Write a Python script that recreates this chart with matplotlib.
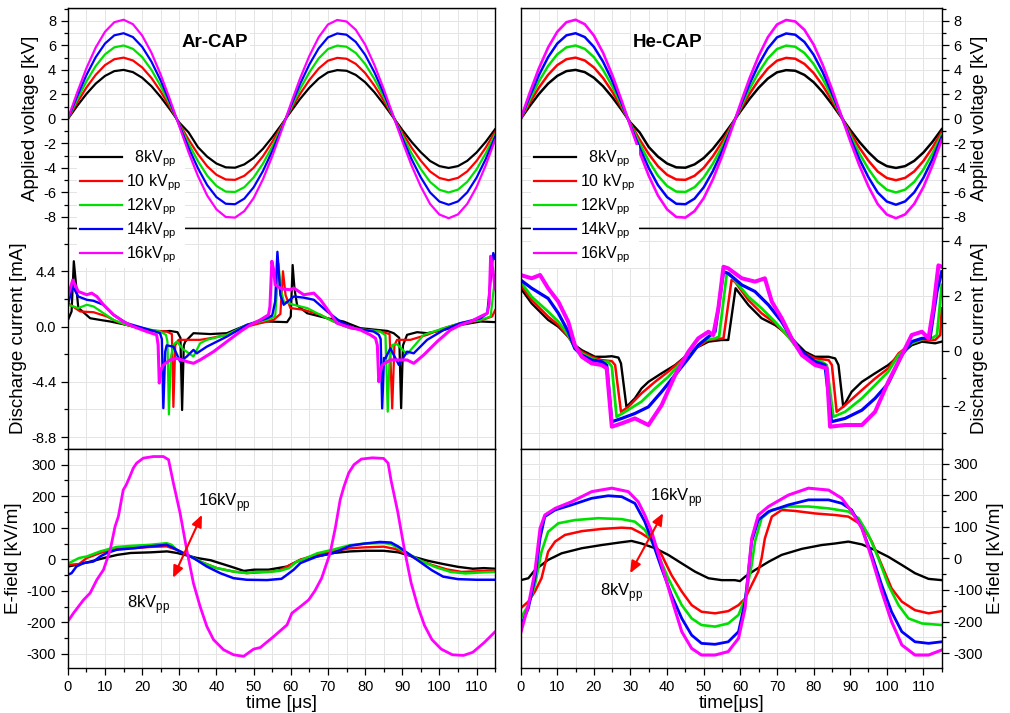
import matplotlib
matplotlib.use("Agg")
import matplotlib.pyplot as plt
from matplotlib.ticker import MultipleLocator, FormatStrFormatter

plt.rcParams['font.family'] = ['Liberation Sans', 'DejaVu Sans']
plt.rcParams['mathtext.fontset'] = 'custom'
plt.rcParams['mathtext.rm'] = 'Liberation Sans'
plt.rcParams['axes.unicode_minus'] = False

COLORS = ['#000000', '#ff0000', '#00e000', '#0000ff', '#ff00ff']
LABELS = ['  8kV$_{\\rm pp}$', '10 kV$_{\\rm pp}$', '12kV$_{\\rm pp}$',
          '14kV$_{\\rm pp}$', '16kV$_{\\rm pp}$']

# ── applied voltage [kV], sampled every 2.5 us ──────────────────────────
t_volt = [0, 2.5, 5, 7.5, 10, 12.5, 15, 17.5, 20, 22.5, 25, 27.5, 30, 32.5, 35,
          37.5, 40, 42.5, 45, 47.5, 50, 52.5, 55, 57.5, 60, 62.5, 65, 67.5, 70,
          72.5, 75, 77.5, 80, 82.5, 85, 87.5, 90, 92.5, 95, 97.5, 100, 102.5,
          105, 107.5, 110, 112.5, 115]
volt_8 = [0, 1.06, 2.04, 2.88, 3.51, 3.90, 4.00, 3.82, 3.36, 2.67, 1.78, 0.77,
          -0.30, -1.10, -2.30, -3.08, -3.64, -3.95, -3.98, -3.71, -3.19, -2.44,
          -1.50, -0.47, 0.60, 1.63, 2.54, 3.29, 3.80, 3.98, 3.93, 3.59, 3.00,
          2.18, 1.21, 0.16, -0.89, -1.87, -2.72, -3.43, -3.85, -4.00, -3.85,
          -3.42, -2.74, -1.86, -0.84]
volt_10 = [0, 1.33, 2.56, 3.60, 4.39, 4.87, 5.00, 4.77, 4.20, 3.34, 2.23, 0.96,
           -0.38, -1.69, -2.87, -3.86, -4.56, -4.94, -4.97, -4.64, -3.99, -3.05,
           -1.88, -0.59, 0.75, 2.04, 3.17, 4.11, 4.75, 4.98, 4.91, 4.49, 3.75,
           2.72, 1.51, 0.21, -1.11, -2.34, -3.41, -4.29, -4.82, -5.00, -4.81,
           -4.28, -3.43, -2.33, -1.05]
volt_12 = [0, 1.59, 3.07, 4.32, 5.27, 5.84, 5.99, 5.72, 5.04, 4.00, 2.67, 1.15,
           -0.45, -2.02, -3.44, -4.63, -5.47, -5.93, -5.96, -5.57, -4.78, -3.65,
           -2.26, -0.71, 0.89, 2.44, 3.80, 4.93, 5.70, 5.98, 5.89, 5.38, 4.49,
           3.26, 1.81, 0.25, -1.33, -2.81, -4.09, -5.14, -5.78, -6.00, -5.77,
           -5.13, -4.12, -2.79, -1.26]
volt_14 = [0, 1.86, 3.58, 5.04, 6.15, 6.82, 6.99, 6.68, 5.88, 4.67, 3.12, 1.34,
           -0.53, -2.36, -4.02, -5.40, -6.38, -6.92, -6.96, -6.50, -5.58, -4.26,
           -2.63, -0.83, 1.04, 2.85, 4.44, 5.75, 6.65, 6.97, 6.87, 6.28, 5.24,
           3.81, 2.11, 0.29, -1.55, -3.28, -4.77, -6.00, -6.74, -7.00, -6.73,
           -5.99, -4.80, -3.26, -1.47]
volt_16 = [0, 2.15, 4.14, 5.83, 7.11, 7.89, 8.09, 7.73, 6.80, 5.40, 3.60, 1.56,
           -0.61, -2.73, -4.65, -6.25, -7.38, -8.00, -8.05, -7.52, -6.46, -4.93,
           -3.05, -0.96, 1.21, 3.30, 5.14, 6.66, 7.70, 8.07, 7.95, 7.27, 6.07,
           4.41, 2.45, 0.33, -1.80, -3.79, -5.52, -6.94, -7.80, -8.10, -7.79,
           -6.93, -5.56, -3.77, -1.70]

# ── Ar discharge current [mA] ───────────────────────────────────────────
ar_cur_8_t = [0, 1.0, 1.6, 2.8, 6.0, 8.6, 11.4, 15.8, 21.2, 24.8, 27.5, 29.5,
              30.3, 30.75, 31.2, 31.6, 33.8, 38.3, 42.8, 48.2, 53.6, 59.0, 60.0,
              60.5, 61.0, 61.7, 64.4, 69.8, 74.2, 78.7, 86.0, 87.7, 89.2, 89.7,
              90.2, 91.3, 94.0, 96.7, 101.2, 105.7, 111.1, 115]
ar_cur_8 = [0.5, 1.2, 5.2, 1.5, 0.66, 0.53, 0.4, 0.13, -0.27, -0.4, -0.35, -0.45,
            -0.9, -6.65, -1.5, -1.2, -0.53, -0.6, -0.53, 0.13, 0.4, 0.35, 0.8,
            4.9, 3.0, 1.7, 1.06, 0.66, 0.4, -0.13, -0.35, -0.53, -0.9, -6.5, -1.5,
            -0.66, -0.45, -0.53, -0.27, 0.13, 0.4, 0.35]
ar_cur_10_t = [0, 3.3, 6.9, 10.5, 13.1, 15.8, 21.2, 26.6, 28.0, 28.4, 28.9, 29.8,
               32.0, 35.6, 38.3, 42.8, 48.2, 53.6, 55.4, 57.2, 57.9, 58.6, 59.9,
               63.5, 68.0, 71.5, 76.0, 84.1, 86.6, 87.3, 87.9, 88.6, 92.2, 96.7,
               101.2, 105.7, 111.1, 114.2, 115]
ar_cur_10 = [1.87, 1.2, 1.14, 0.8, 0.4, 0.13, -0.27, -0.4, -0.6, -6.4, -1.5,
             -1.06, -1.06, -1.06, -0.93, -0.66, 0, 0.4, 0.53, 1.0, 4.4, 2.5, 1.47,
             1.33, 0.93, 0.4, -0.13, -0.4, -0.6, -6.52, -1.5, -1.06, -1.06, -0.66,
             -0.13, 0.27, 0.48, 0.8, 1.3]
ar_cur_12_t = [0, 1.5, 2.8, 5.1, 6.9, 9.6, 12.3, 15.8, 24.8, 26.4, 26.8, 27.2,
               27.7, 28.4, 29.3, 31.0, 33.8, 35.6, 37.4, 42.8, 48.2, 53.6, 55.8,
               56.2, 56.7, 57.3, 58.1, 60.8, 64.4, 67.1, 71.5, 76.0, 84.1, 85.5,
               86.1, 86.6, 87.3, 88.6, 91.3, 95.8, 101.2, 105.7, 111.1, 113.8, 115]
ar_cur_12 = [1.73, 1.6, 1.47, 1.73, 1.6, 1.06, 0.53, 0.13, -0.4, -0.66, -1.2,
             -7.0, -2.5, -1.46, -1.2, -1.8, -2.39, -1.33, -1.06, -0.66, 0.13,
             0.53, 0.8, 2.5, 5.0, 3.0, 2.0, 1.73, 1.47, 1.06, 0.4, -0.13, -0.4,
             -0.7, -6.78, -2.5, -1.46, -1.4, -2.2, -0.66, -0.13, 0.27, 0.53, 0.8,
             4.0]
ar_cur_14_t = [0, 1.3, 2.8, 5.1, 6.9, 9.6, 12.3, 15.8, 23.0, 24.8, 25.3, 25.7,
               26.2, 26.6, 28.4, 30.2, 32.0, 33.8, 34.7, 37.4, 42.8, 48.2, 53.6,
               55.0, 55.8, 56.4, 57.2, 58.1, 60.8, 63.5, 66.2, 69.8, 73.3, 76.9,
               82.3, 83.7, 84.2, 84.6, 85.1, 85.5, 86.8, 89.1, 91.3, 93.1, 96.7,
               101.2, 105.7, 111.1, 112.9, 114.5, 115]
ar_cur_14 = [1.73, 3.2, 2.39, 2.13, 2.05, 1.73, 0.93, 0.27, -0.35, -0.53, -1.0,
             -6.5, -2.0, -1.5, -1.6, -2.79, -2.39, -1.86, -2.13, -1.6, -0.8, 0.13,
             0.66, 0.88, 2.0, 5.95, 2.5, 1.73, 2.39, 2.3, 2.13, 1.2, 0.4, -0.13,
             -0.4, -0.66, -1.0, -6.52, -2.5, -2.53, -1.73, -3.06, -2.0, -2.13,
             -1.06, -0.27, 0.27, 0.66, 1.06, 5.85, 5.4]
ar_cur_16_t = [0, 1.3, 2.8, 5.1, 6.4, 7.8, 9.6, 12.3, 14.9, 17.6, 21.2, 23.9,
               24.3, 24.6, 25.0, 25.7, 27.5, 29.3, 32.0, 33.8, 35.6, 39.2, 42.8,
               46.4, 49.1, 51.8, 54.0, 54.4, 54.9, 55.4, 55.8, 57.5, 59.9, 60.8,
               63.5, 66.2, 68.0, 70.6, 72.4, 75.1, 78.7, 81.4, 82.8, 83.3, 83.7,
               84.2, 84.6, 86.8, 91.3, 93.1, 95.8, 99.4, 103.0, 105.7, 108.4,
               111.1, 112.9, 113.4, 113.8, 114.4, 115]
ar_cur_16 = [2.4, 3.7, 2.79, 2.53, 2.66, 2.39, 1.73, 0.93, 0.4, 0, -0.4, -0.66,
             -1.5, -4.5, -3.5, -3.06, -2.66, -2.53, -2.79, -2.93, -2.66, -2.0,
             -1.2, -0.4, 0.13, 0.53, 0.93, 1.6, 5.2, 4.5, 3.33, 3.0, 2.93, 3.06,
             2.53, 2.66, 2.13, 1.06, 0.27, 0, -0.27, -0.66, -0.93, -1.5, -4.39,
             -3.5, -3.06, -2.66, -2.66, -2.93, -2.26, -1.2, -0.27, 0.13, 0.4, 0.8,
             1.06, 1.8, 5.6, 4.5, 3.0]

# ── He discharge current [mA] ───────────────────────────────────────────
he_cur_8_t = [0, 3.0, 7.5, 10.3, 13.0, 14.8, 16.7, 18.5, 20.3, 23.0, 24.9, 26.7,
              27.4, 28.9, 31.2, 33.0, 34.9, 38.5, 42.2, 44.9, 47.6, 51.3, 54.9,
              56.7, 58.7, 62.2, 65.8, 69.5, 71.3, 74.9, 77.7, 80.4, 84.1, 85.9,
              86.8, 88.1, 90.4, 93.2, 96.8, 100.4, 104.1, 106.8, 109.6, 113.2, 115]
he_cur_8 = [2.27, 1.72, 1.12, 0.87, 0.51, 0.2, 0.02, -0.1, -0.22, -0.22, -0.2,
            -0.25, -0.46, -2.04, -1.73, -1.37, -1.13, -0.82, -0.52, -0.22, 0.08,
            0.33, 0.39, 0.39, 2.27, 1.66, 1.18, 0.93, 0.75, 0.33, -0.04, -0.22,
            -0.22, -0.28, -0.52, -2.04, -1.49, -1.13, -0.82, -0.52, -0.1, 0.2,
            0.33, 0.27, 0.33]
he_cur_10_t = [0, 3.0, 7.5, 10.3, 13.0, 14.8, 16.7, 19.4, 22.1, 24.9, 25.8, 27.4,
               29.4, 33.0, 36.7, 40.3, 44.0, 47.6, 51.3, 55.4, 57.6, 58.5, 62.2,
               65.8, 69.5, 73.1, 76.8, 80.4, 84.1, 85.0, 86.3, 88.6, 93.2, 96.8,
               100.4, 103.2, 106.8, 109.6, 113.2, 114.6, 115]
he_cur_10 = [2.39, 1.84, 1.24, 0.93, 0.51, 0.15, -0.04, -0.22, -0.34, -0.38,
             -0.52, -2.22, -2.04, -1.55, -1.13, -0.76, -0.34, 0.08, 0.39, 0.45,
             2.57, 2.51, 1.84, 1.36, 1.0, 0.51, -0.04, -0.28, -0.34, -0.52, -2.22,
             -1.98, -1.43, -1.01, -0.64, -0.1, 0.27, 0.39, 0.39, 0.57, 1.54]
he_cur_12_t = [0, 3.0, 7.5, 10.3, 13.0, 14.8, 16.7, 19.4, 22.1, 23.9, 24.9, 26.2,
               28.5, 33.0, 36.7, 40.3, 44.0, 47.6, 50.4, 53.1, 54.2, 56.3, 57.6,
               62.2, 65.8, 69.5, 73.1, 75.9, 79.5, 82.2, 83.6, 85.4, 88.6, 93.2,
               96.8, 100.4, 103.2, 106.8, 109.6, 112.3, 113.7, 115]
he_cur_12 = [2.51, 1.96, 1.42, 1.05, 0.57, 0.08, -0.1, -0.28, -0.4, -0.4, -0.58,
             -2.4, -2.22, -1.85, -1.37, -0.95, -0.4, 0.08, 0.39, 0.45, 0.51, 2.81,
             2.69, 1.96, 1.54, 1.05, 0.51, 0.02, -0.34, -0.4, -0.52, -2.4, -2.22,
             -1.73, -1.25, -0.76, -0.16, 0.27, 0.42, 0.45, 0.57, 2.39]
he_cur_14_t = [0, 3.0, 7.5, 10.3, 13.0, 14.8, 16.7, 19.4, 22.1, 23.5, 24.9, 27.6,
               31.2, 34.9, 38.5, 42.2, 45.8, 48.5, 51.3, 53.1, 55.4, 56.7, 60.4,
               64.0, 67.7, 71.3, 74.0, 76.8, 80.4, 83.1, 84.9, 88.6, 93.2, 96.8,
               100.4, 104.1, 106.8, 109.6, 111.8, 113.7, 115]
he_cur_14 = [2.57, 2.27, 1.90, 1.36, 0.69, 0.08, -0.16, -0.34, -0.4, -0.52, -2.58,
             -2.46, -2.28, -2.04, -1.49, -0.88, -0.28, 0.2, 0.51, 0.69, 2.87, 2.81,
             2.39, 2.15, 1.66, 1.05, 0.45, -0.04, -0.4, -0.52, -2.58, -2.46, -2.16,
             -1.73, -1.19, -0.16, 0.33, 0.45, 0.45, 2.15, 2.87]
he_cur_16_t = [0, 3.0, 5.3, 7.5, 10.3, 13.0, 14.8, 16.7, 19.4, 22.1, 23.5, 24.9,
               27.6, 31.2, 34.9, 38.5, 42.2, 45.8, 48.5, 51.3, 52.6, 54.0, 55.4,
               56.7, 60.4, 64.0, 66.7, 68.6, 71.3, 74.0, 76.8, 80.4, 83.6, 84.5,
               88.6, 93.2, 96.8, 100.4, 104.1, 106.8, 109.6, 111.4, 112.7, 114.1, 115]
he_cur_16 = [2.75, 2.63, 2.75, 2.27, 1.78, 1.05, 0.2, -0.22, -0.46, -0.52, -0.64,
             -2.76, -2.64, -2.46, -2.70, -1.98, -0.88, -0.04, 0.45, 0.69, 0.57,
             1.54, 3.05, 2.99, 2.63, 2.51, 2.63, 1.78, 1.18, 0.45, -0.16, -0.52,
             -0.64, -2.76, -2.70, -2.70, -2.22, -1.13, -0.16, 0.57, 0.69, 0.45,
             1.54, 3.10, 3.05]

# ── Ar E-field [kV/m] ───────────────────────────────────────────────────
ar_ef_8_t = [0, 2.6, 6.2, 9.7, 13.3, 16.9, 22.2, 26.7, 29.4, 34.8, 38.4, 43.8,
             47.4, 50.1, 54.0, 59.0, 62.6, 67.1, 71.5, 76.0, 80, 85, 89, 93, 97,
             101, 105, 109, 112, 115]
ar_ef_8 = [-23, -17, -7, 4, 14, 20, 22, 25, 20, 4, -3, -23, -37, -33, -33, -23,
           -2, 9, 20, 25, 27, 27, 22, 8, -5, -15, -24, -30, -28, -30]
ar_ef_10_t = [0, 3.0, 5.1, 8.7, 13.1, 17.6, 22.1, 26.6, 29.3, 32.0, 35.6, 40.1,
              44.6, 48.2, 50.9, 54.0, 57.0, 59.0, 62.6, 67.1, 71.5, 76.0, 80, 85,
              88, 91, 94, 98, 102, 106, 110, 115]
ar_ef_10 = [-18, -15, 4, 20, 35, 35, 39, 41, 30, 14, -7, -28, -39, -44, -42, -40,
            -35, -23, -1, 15, 25, 35, 38, 40, 33, 18, 0, -18, -32, -40, -38, -35]
ar_ef_12_t = [0, 3.0, 5.1, 8.7, 13.1, 17.6, 22.1, 26.6, 27.9, 29.3, 32.9, 36.5,
              40.1, 44.6, 48.2, 50.9, 54.0, 57.0, 59.5, 61.5, 63.0, 67.1, 71.5,
              76.0, 80, 85, 87, 89, 92, 95, 99, 103, 107, 111, 115]
ar_ef_12 = [-14, 4, 9, 25, 39, 43, 46, 51, 46, 30, 10, -12, -28, -39, -44, -40,
            -40, -37, -28, -8, -2, 19, 31, 45, 50, 52, 48, 35, 15, -5, -25, -40,
            -45, -42, -40]
ar_ef_14_t = [0, 1.0, 2.3, 4.2, 6.9, 8.7, 10.5, 13.1, 17.6, 22.1, 26.6, 28.4,
              30.2, 33.8, 37.4, 41.0, 44.6, 48.2, 53.6, 57.5, 59.0, 60.8, 62.6,
              67.1, 71.5, 76.0, 80, 84, 87, 89, 92, 95, 98, 101, 105, 110, 115]
ar_ef_14 = [-49, -44, -23, -12, -7, 9, 20, 30, 35, 41, 46, 36, 25, 4, -23, -44,
            -60, -65, -66, -62, -49, -33, -12, 9, 20, 43, 50, 55, 53, 40, 15, -10,
            -35, -55, -63, -65, -65]
ar_ef_16_t = [0, 1.5, 4.2, 6.0, 7.8, 9.6, 11.4, 12.7, 13.6, 14.9, 15.7, 16.7,
              17.6, 18.5, 20.3, 23.0, 25.7, 27.1, 28.4, 30.2, 32.0, 33.8, 35.6,
              37.4, 39.2, 41.9, 44.6, 47.3, 50.0, 51.8, 55.4, 59.0, 60.3, 62.6,
              64.8, 66.5, 68.3, 70.6, 72.0, 73.3, 74.3, 75.6, 77.0, 79.0, 82.0,
              85.0, 86.2, 87.0, 88.8, 90.6, 92.4, 94.2, 96.0, 98.0, 100.5, 103.5,
              106.5, 109.0, 112.0, 115.0]
ar_ef_16 = [-197, -171, -129, -107, -65, -33, 30, 104, 136, 220, 236, 263, 289,
            305, 321, 326, 326, 316, 242, 147, 30, -76, -150, -213, -255, -287,
            -303, -308, -285, -280, -245, -208, -171, -150, -129, -100, -60, 20,
            100, 189, 230, 274, 300, 318, 322, 320, 305, 250, 150, 30, -75, -150,
            -210, -255, -285, -303, -305, -295, -265, -230]

# ── He E-field [kV/m] ───────────────────────────────────────────────────
he_ef_8_t = [0, 2.1, 3.9, 7.5, 11.2, 16.7, 22.1, 27.6, 30.3, 33.0, 36.7, 40.3,
             44.0, 47.6, 51.3, 54.9, 58.5, 59.9, 61.3, 64.0, 67.7, 71.3, 76.8,
             82.2, 85.9, 89.5, 93.2, 96.8, 100.4, 104.1, 107.7, 111.4, 115]
he_ef_8 = [-69, -63, -37, -5, 16, 32, 42, 51, 55, 47, 32, 11, -16, -42, -63, -69,
           -69, -72, -58, -37, -11, 11, 30, 42, 47, 53, 44, 26, 5, -21, -47, -65,
           -69]
he_ef_10_t = [0, 2.1, 3.9, 5.7, 6.6, 7.5, 9.4, 12.1, 16.7, 22.1, 27.6, 30.3, 33.0,
              35.8, 38.5, 41.2, 44.0, 46.7, 49.4, 53.1, 56.7, 59.5, 61.3, 63.1,
              64.9, 65.8, 66.7, 68.6, 71.3, 74.9, 80.4, 85.9, 89.5, 93.2, 95.9,
              98.6, 101.3, 104.1, 107.7, 111.4, 115]
he_ef_10 = [-158, -137, -105, -63, -21, 21, 53, 74, 86, 93, 97, 95, 79, 58, 11,
            -53, -105, -148, -169, -174, -167, -148, -127, -84, -42, 0, 63, 132,
            153, 150, 142, 137, 132, 105, 53, -21, -95, -137, -164, -174, -167]
he_ef_12_t = [0, 2.1, 3.9, 5.7, 7.5, 10.3, 14.8, 21.2, 27.6, 31.2, 33.9, 35.8,
              37.6, 40.3, 44.0, 46.7, 49.4, 53.1, 56.7, 59.5, 61.3, 63.1, 64.0,
              65.8, 68.6, 73.1, 78.6, 84.1, 89.5, 92.3, 95.0, 97.7, 100.4, 103.2,
              105.9, 109.6, 115]
he_ef_12 = [-190, -148, -84, 21, 84, 111, 121, 127, 124, 116, 90, 53, 11, -63,
            -148, -190, -211, -216, -206, -179, -127, -21, 53, 127, 153, 164, 164,
            158, 148, 127, 74, 0, -84, -148, -190, -206, -211]
he_ef_14_t = [0, 2.1, 3.9, 5.3, 6.6, 9.4, 13.9, 19.4, 23.9, 27.6, 31.2, 33.9,
              35.8, 38.5, 41.2, 44.0, 46.7, 49.4, 53.1, 56.7, 59.5, 61.3, 62.2,
              63.1, 64.9, 67.7, 73.1, 78.6, 84.1, 87.7, 90.4, 93.2, 95.9, 98.6,
              101.3, 104.1, 107.7, 111.4, 115]
he_ef_14 = [-216, -158, -63, 63, 132, 153, 169, 190, 198, 195, 174, 116, 58, -32,
            -116, -190, -243, -269, -272, -264, -232, -137, -42, 53, 121, 148, 169,
            185, 185, 174, 153, 95, 11, -84, -169, -232, -264, -269, -264]
he_ef_16_t = [0, 2.1, 3.9, 5.3, 6.6, 9.4, 13.9, 19.4, 24.9, 29.4, 32.1, 33.9,
              35.8, 38.5, 41.2, 44.0, 46.7, 49.4, 53.1, 56.7, 59.5, 61.3, 62.2,
              63.1, 64.9, 67.7, 73.1, 78.6, 84.1, 87.7, 90.4, 93.2, 95.9, 98.6,
              101.3, 104.1, 107.7, 111.4, 115]
he_ef_16 = [-237, -148, -42, 95, 137, 158, 179, 211, 222, 211, 179, 137, 84, -21,
            -127, -232, -285, -306, -306, -295, -253, -158, -42, 63, 137, 164, 200,
            222, 216, 190, 148, 95, 0, -105, -200, -274, -306, -306, -290]

AR_CUR = [(ar_cur_8_t, ar_cur_8), (ar_cur_10_t, ar_cur_10), (ar_cur_12_t, ar_cur_12),
          (ar_cur_14_t, ar_cur_14), (ar_cur_16_t, ar_cur_16)]
HE_CUR = [(he_cur_8_t, he_cur_8), (he_cur_10_t, he_cur_10), (he_cur_12_t, he_cur_12),
          (he_cur_14_t, he_cur_14), (he_cur_16_t, he_cur_16)]
AR_EF = [(ar_ef_8_t, ar_ef_8), (ar_ef_10_t, ar_ef_10), (ar_ef_12_t, ar_ef_12),
         (ar_ef_14_t, ar_ef_14), (ar_ef_16_t, ar_ef_16)]
HE_EF = [(he_ef_8_t, he_ef_8), (he_ef_10_t, he_ef_10), (he_ef_12_t, he_ef_12),
         (he_ef_14_t, he_ef_14), (he_ef_16_t, he_ef_16)]
VOLT = [(t_volt, v) for v in (volt_8, volt_10, volt_12, volt_14, volt_16)]


def style(ax, side, ylim, major, minor, fmt=None, bottom=False):
    ax.set_xlim(0, 115)
    ax.set_ylim(*ylim)
    ax.xaxis.set_major_locator(MultipleLocator(10))
    ax.xaxis.set_minor_locator(MultipleLocator(5))
    ax.yaxis.set_major_locator(MultipleLocator(major))
    ax.yaxis.set_minor_locator(MultipleLocator(minor))
    if fmt:
        ax.yaxis.set_major_formatter(FormatStrFormatter(fmt))
    ax.grid(which="both", color="#e4e4e4", lw=0.7)
    ax.set_axisbelow(True)
    left = side == "left"
    ax.tick_params(which="both", direction="out", top=False, left=left,
                   right=not left, labelleft=left, labelright=not left,
                   bottom=bottom, labelbottom=bottom, labelsize=10.5, width=0.9)
    ax.tick_params(which="major", length=5)
    ax.tick_params(which="minor", length=3)
    if not left:
        ax.yaxis.set_label_position("right")
    for s in ax.spines.values():
        s.set_linewidth(1.0)


def draw(ax, series, widths=(1.6, 1.6, 1.6, 1.6, 1.6)):
    lines = []
    for (t, v), c, lab, lw in zip(series, COLORS, LABELS, widths):
        ln, = ax.plot(t, v, color=c, lw=lw, label=lab)
        lines.append(ln)
    return lines


fig = plt.figure(figsize=(10.1, 7.13), dpi=100)
cols = {"left": (0.0672, 0.4230), "right": (0.5155, 0.4169)}
rows = [(0.6802, 0.3086), (0.3703, 0.3100), (0.0631, 0.3072)]

ax = {}
for side, (x0, w) in cols.items():
    for i, (y0, h) in enumerate(rows):
        ax[side, i] = fig.add_axes([x0, y0, w, h])

# top row: applied voltage
handles = draw(ax["left", 0], VOLT)
draw(ax["right", 0], VOLT, (1.8, 1.8, 1.8, 1.8, 1.9))
style(ax["left", 0], "left", (-8.9, 9.05), 2, 1)
style(ax["right", 0], "right", (-8.9, 9.05), 2, 1)
ax["left", 0].set_ylabel("Applied voltage [kV]", fontsize=13.5, labelpad=3)
ax["right", 0].set_ylabel("Applied voltage [kV]", fontsize=13.5, labelpad=3)
ax["left", 0].text(39.6, 6.2, "Ar-CAP", fontsize=13.5, fontweight="bold",
                   ha="center", va="center",
                   bbox=dict(facecolor="white", edgecolor="none", pad=1))
ax["right", 0].text(40.0, 6.2, "He-CAP", fontsize=13.5, fontweight="bold",
                    ha="center", va="center",
                    bbox=dict(facecolor="white", edgecolor="none", pad=1))

# middle row: discharge current (noisy traces drawn a bit heavier)
draw(ax["left", 1], AR_CUR, (1.6, 1.6, 1.6, 1.7, 2.2))
draw(ax["right", 1], HE_CUR, (1.7, 1.8, 2.0, 2.3, 2.9))
style(ax["left", 1], "left", (-9.75, 7.85), 4.4, 2.2, "%.1f")
style(ax["right", 1], "right", (-3.57, 4.46), 2, 1)
ax["left", 1].set_ylabel("Discharge current [mA]", fontsize=13.5, labelpad=3)
ax["right", 1].set_ylabel("Discharge current [mA]", fontsize=13.5, labelpad=3)

# bottom row: E-field
draw(ax["left", 2], AR_EF, (1.7, 1.7, 1.8, 1.8, 2.0))
draw(ax["right", 2], HE_EF, (1.7, 1.8, 1.9, 2.0, 2.2))
style(ax["left", 2], "left", (-345, 350), 100, 50, bottom=True)
style(ax["right", 2], "right", (-347, 346), 100, 50, bottom=True)
ax["left", 2].set_ylabel("E-field [kV/m]", fontsize=13.5, labelpad=3)
ax["right", 2].set_ylabel("E-field [kV/m]", fontsize=13.5, labelpad=3)
ax["left", 2].set_xlabel("time [\u03bcs]", fontsize=13.5, labelpad=1)
ax["right", 2].set_xlabel("time[\u03bcs]", fontsize=13.5, labelpad=1)

# red arrows 8 kVpp -> 16 kVpp
arrows = {"left": ((28.3, -59), (36.1, 141), (35.1, 179), (15.9, -144)),
          "right": ((29.9, -47), (38.9, 143), (35.3, 191), (21.7, -107))}
for side, (p0, p1, t16, t8) in arrows.items():
    a = ax[side, 2]
    a.annotate("", xy=p1, xytext=p0,
               arrowprops=dict(arrowstyle="<|-|>,head_width=0.3,head_length=0.7",
                               color="red", lw=1.5, shrinkA=0, shrinkB=0))
    a.text(*t16, "16kV$_{\\rm pp}$", fontsize=12, ha="left", va="center")
    a.text(*t8, "8kV$_{\\rm pp}$", fontsize=12, ha="left", va="center")

# legends (drawn on top of both upper rows)
for x in (0.0762, 0.5257):
    fig.legend(handles=handles, loc="upper left", bbox_to_anchor=(x, 0.7966),
               fontsize=11.5, frameon=True, facecolor="white", edgecolor="none",
               framealpha=1, fancybox=False, borderpad=0.2, borderaxespad=0,
               handlelength=2.6, handletextpad=0.3, labelspacing=0.22)

fig.savefig("out.png", dpi=100, facecolor="white")
